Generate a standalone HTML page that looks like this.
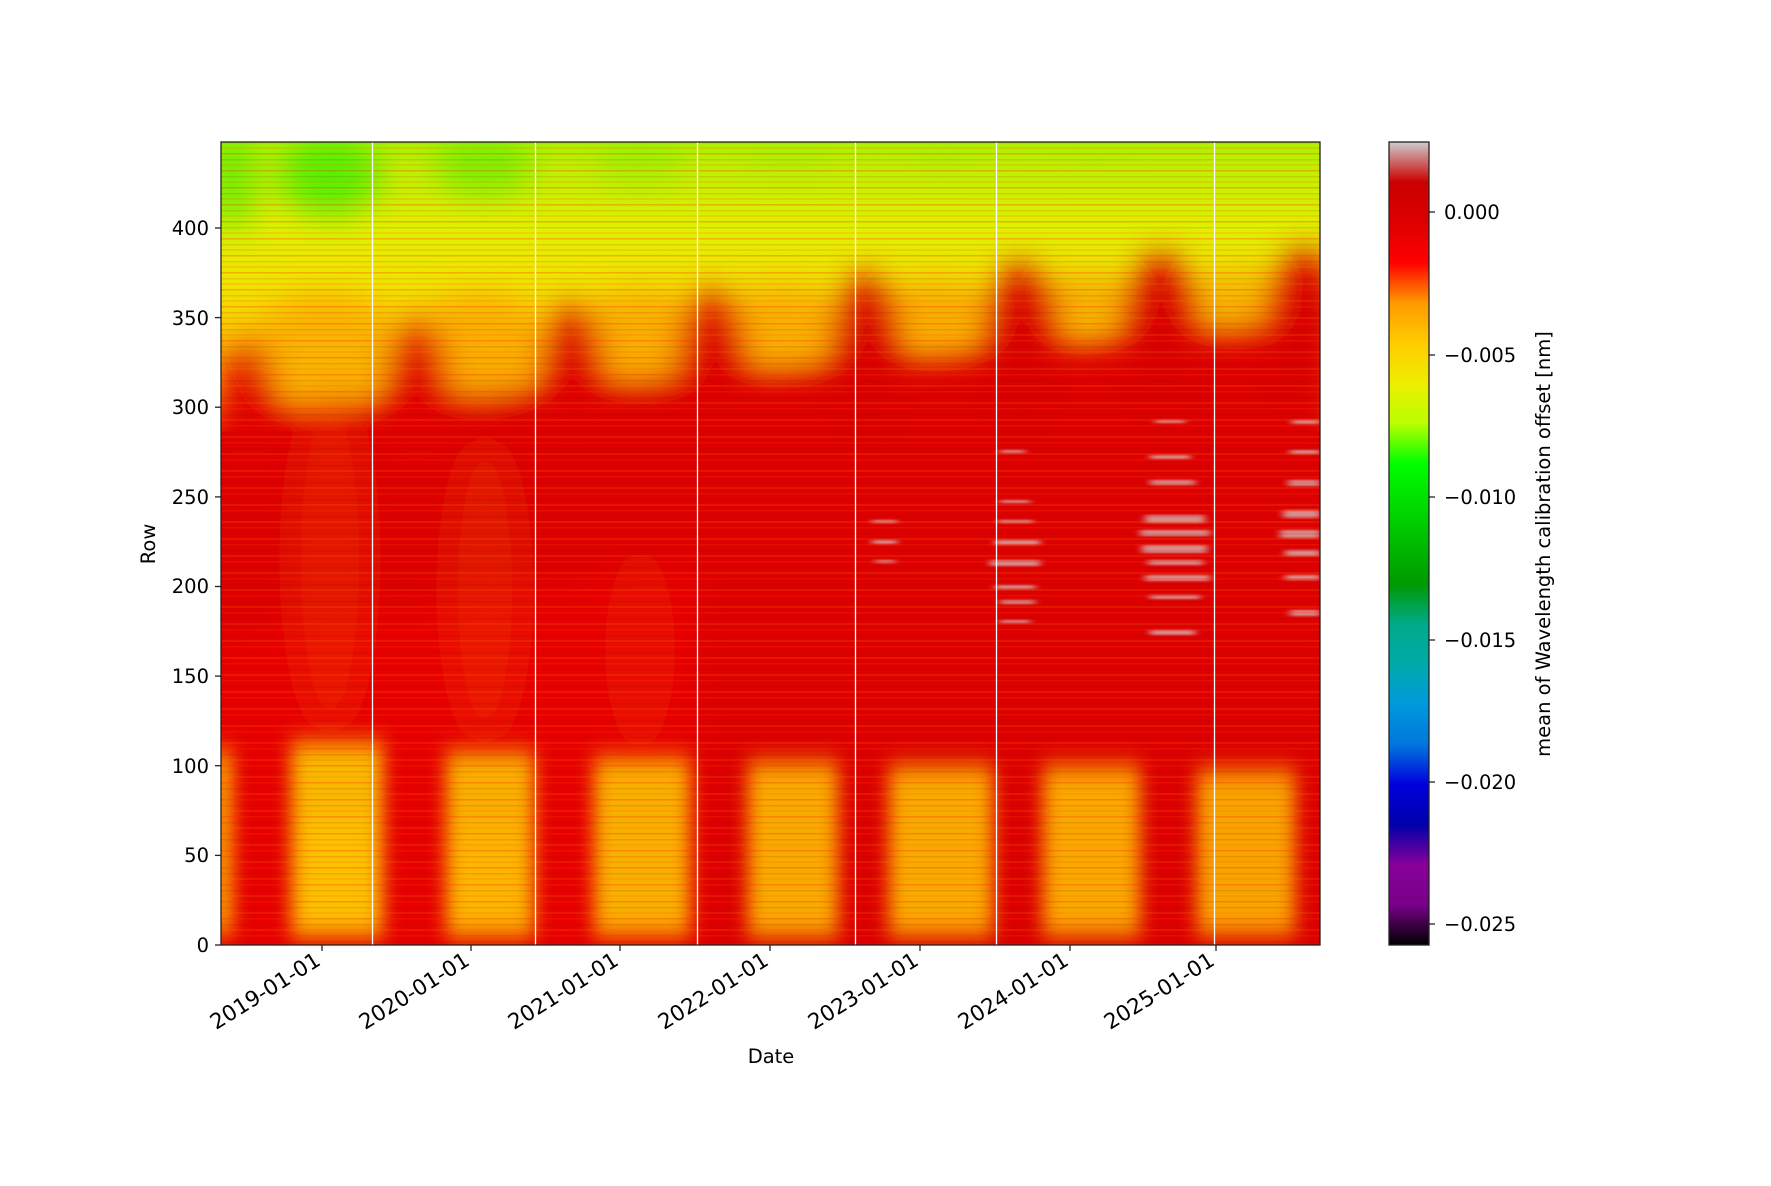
<!DOCTYPE html>
<html><head><meta charset="utf-8"><style>
html,body{margin:0;padding:0;background:#fff;}
svg text{font-family:"DejaVu Sans","Liberation Sans",sans-serif;font-size:19.5px;fill:#000;}
svg text.xt{font-size:21.5px;}
</style></head><body>
<svg width="1771" height="1181" viewBox="0 0 1771 1181" xmlns="http://www.w3.org/2000/svg">
<defs>
<filter id="b1" x="-50%" y="-50%" width="200%" height="200%"><feGaussianBlur stdDeviation="16"/></filter>
<filter id="b2" x="-50%" y="-50%" width="200%" height="200%"><feGaussianBlur stdDeviation="9 12"/></filter>
<filter id="b3" x="-50%" y="-50%" width="200%" height="200%"><feGaussianBlur stdDeviation="4 1"/></filter>
<clipPath id="pc"><rect x="221" y="142" width="1099" height="803"/></clipPath>
<linearGradient id="topg" x1="0" y1="0" x2="0" y2="1">
<stop offset="0" stop-color="#b0f000"/>
<stop offset="0.15" stop-color="#c8f000"/>
<stop offset="0.3" stop-color="#e0f000"/>
<stop offset="0.5" stop-color="#f0e400"/>
<stop offset="0.65" stop-color="#f8cc00"/>
<stop offset="0.82" stop-color="#f8ac00"/>
<stop offset="1" stop-color="#f07000"/>
</linearGradient>
<linearGradient id="cb" x1="0" y1="1" x2="0" y2="0">
<stop offset="0" stop-color="#000000"/>
<stop offset="0.05" stop-color="#780088"/>
<stop offset="0.10" stop-color="#870099"/>
<stop offset="0.15" stop-color="#0000aa"/>
<stop offset="0.20" stop-color="#0000dd"/>
<stop offset="0.25" stop-color="#0077dd"/>
<stop offset="0.30" stop-color="#0099dd"/>
<stop offset="0.35" stop-color="#00aaaa"/>
<stop offset="0.40" stop-color="#00aa88"/>
<stop offset="0.45" stop-color="#009900"/>
<stop offset="0.50" stop-color="#00bb00"/>
<stop offset="0.55" stop-color="#00dd00"/>
<stop offset="0.60" stop-color="#00ff00"/>
<stop offset="0.65" stop-color="#bbff00"/>
<stop offset="0.70" stop-color="#eeee00"/>
<stop offset="0.75" stop-color="#ffcc00"/>
<stop offset="0.80" stop-color="#ff9900"/>
<stop offset="0.85" stop-color="#ff0000"/>
<stop offset="0.90" stop-color="#dd0000"/>
<stop offset="0.95" stop-color="#cc0000"/>
<stop offset="1" stop-color="#cccccc"/>
</linearGradient>
<pattern id="stripes" width="1100" height="17" patternUnits="userSpaceOnUse">
<rect y="0" width="1100" height="1.5" fill="#ff3000" opacity="0.3"/>
<rect y="6" width="1100" height="1.5" fill="#a00000" opacity="0.12"/>
<rect y="11" width="1100" height="2" fill="#ff7000" opacity="0.2"/>
</pattern>
</defs>

<g clip-path="url(#pc)">
<rect x="221" y="142" width="1099" height="803" fill="#d80000"/>
<rect x="221" y="142" width="1099" height="290" fill="url(#topg)"/>
<g filter="url(#b1)">
<polygon points="200,420 1340,320 1340,960 200,960" fill="#dc0000"/>
<polygon points="200,640 700,560 700,960 200,960" fill="#e80000" opacity="0.8"/>
<ellipse cx="326" cy="345" rx="70" ry="50" fill="#f8b400"/>
<ellipse cx="481" cy="340" rx="65" ry="45" fill="#f8ac00" opacity="0.9"/>
<ellipse cx="642" cy="330" rx="60" ry="40" fill="#f8a800" opacity="0.8"/>
<ellipse cx="782" cy="320" rx="60" ry="35" fill="#f8a000" opacity="0.7"/>
<ellipse cx="937" cy="310" rx="55" ry="30" fill="#f89000" opacity="0.6"/>
<ellipse cx="1084" cy="300" rx="55" ry="25" fill="#f88000" opacity="0.5"/>
<ellipse cx="1238" cy="295" rx="55" ry="25" fill="#f88000" opacity="0.45"/>
<ellipse cx="330" cy="560" rx="40" ry="170" fill="#f04000" opacity="0.35"/>
<ellipse cx="485" cy="590" rx="38" ry="150" fill="#f04000" opacity="0.28"/>
<ellipse cx="640" cy="650" rx="35" ry="100" fill="#f03000" opacity="0.22"/>
<ellipse cx="249" cy="420" rx="28" ry="80" fill="#e00000"/>
<ellipse cx="417" cy="400" rx="32" ry="80" fill="#e00000"/>
<ellipse cx="572" cy="385" rx="32" ry="80" fill="#dd0000"/>
<ellipse cx="712" cy="370" rx="34" ry="80" fill="#dc0000"/>
<ellipse cx="866" cy="355" rx="34" ry="80" fill="#d80000"/>
<ellipse cx="1021" cy="345" rx="36" ry="80" fill="#d80000"/>
<ellipse cx="1161" cy="335" rx="36" ry="80" fill="#d80000"/>
<ellipse cx="1305" cy="330" rx="36" ry="80" fill="#d80000"/>
<ellipse cx="232" cy="180" rx="25" ry="50" fill="#50f000" opacity="0.7"/>
<ellipse cx="330" cy="175" rx="50" ry="40" fill="#40f000" opacity="0.8"/>
<ellipse cx="484" cy="165" rx="50" ry="30" fill="#60f000" opacity="0.7"/>
<ellipse cx="640" cy="160" rx="45" ry="22" fill="#80f000" opacity="0.5"/>
<ellipse cx="790" cy="155" rx="45" ry="14" fill="#90f000" opacity="0.4"/>
<ellipse cx="940" cy="152" rx="40" ry="10" fill="#90f000" opacity="0.3"/>
<ellipse cx="1090" cy="152" rx="40" ry="10" fill="#a0f000" opacity="0.3"/>
</g>
<g filter="url(#b2)">
<rect x="212" y="750" width="20" height="185" fill="#f8b000"/>
<rect x="291" y="742" width="92" height="195" fill="#f8b800"/>
<rect x="446" y="752" width="88" height="185" fill="#f8b000"/>
<rect x="594" y="758" width="96" height="178" fill="#f8b000"/>
<rect x="748" y="762" width="90" height="175" fill="#f8aa00"/>
<rect x="889" y="766" width="104" height="170" fill="#f8aa00"/>
<rect x="1043" y="766" width="97" height="170" fill="#f8a800"/>
<rect x="1197" y="770" width="98" height="165" fill="#f8a400"/>
<rect x="305" y="820" width="65" height="110" fill="#ffc400" opacity="0.7"/>
<rect x="455" y="835" width="65" height="90" fill="#ffbc00" opacity="0.5"/>
</g>
<g filter="url(#b3)" opacity="0.7">
<g fill="#d8c8c8">
<rect x="995" y="540" width="45" height="5"/><rect x="990" y="560" width="50" height="6"/><rect x="995" y="585" width="40" height="4"/><rect x="998" y="520" width="35" height="3"/><rect x="1000" y="600" width="35" height="4"/><rect x="1000" y="500" width="30" height="3"/><rect x="1000" y="450" width="25" height="3"/><rect x="1000" y="620" width="30" height="3"/>
<rect x="1145" y="515" width="60" height="8"/><rect x="1140" y="530" width="70" height="6"/><rect x="1142" y="545" width="65" height="8"/><rect x="1148" y="560" width="55" height="5"/><rect x="1145" y="575" width="65" height="6"/><rect x="1150" y="595" width="50" height="4"/><rect x="1150" y="480" width="45" height="5"/><rect x="1150" y="455" width="40" height="4"/><rect x="1150" y="630" width="45" height="5"/><rect x="1155" y="420" width="30" height="3"/>
<rect x="1283" y="510" width="37" height="8"/><rect x="1280" y="530" width="40" height="8"/><rect x="1285" y="550" width="35" height="6"/><rect x="1285" y="575" width="35" height="5"/><rect x="1288" y="480" width="32" height="6"/><rect x="1290" y="450" width="30" height="4"/><rect x="1290" y="610" width="30" height="6"/><rect x="1292" y="420" width="28" height="4"/>
<rect x="872" y="520" width="25" height="3"/><rect x="872" y="540" width="25" height="4"/><rect x="875" y="560" width="20" height="3"/>
</g>
</g>
<rect x="221" y="142" width="1099" height="803" fill="url(#stripes)"/>
<g stroke="#fff" stroke-width="1.3">
<line x1="372.5" y1="142" x2="372.5" y2="945"/>
<line x1="535.5" y1="142" x2="535.5" y2="945"/>
<line x1="697.5" y1="142" x2="697.5" y2="945"/>
<line x1="855.5" y1="142" x2="855.5" y2="945"/>
<line x1="996.5" y1="142" x2="996.5" y2="945"/>
<line x1="1214.5" y1="142" x2="1214.5" y2="945"/>
</g>
</g>
<rect x="221" y="142" width="1099" height="803" fill="none" stroke="#222" stroke-width="1.3"/>

<g stroke="#222" stroke-width="1.3">
<line x1="215" y1="945" x2="221" y2="945"/><line x1="215" y1="855.4" x2="221" y2="855.4"/><line x1="215" y1="765.7" x2="221" y2="765.7"/><line x1="215" y1="676.1" x2="221" y2="676.1"/><line x1="215" y1="586.5" x2="221" y2="586.5"/><line x1="215" y1="496.9" x2="221" y2="496.9"/><line x1="215" y1="407.2" x2="221" y2="407.2"/><line x1="215" y1="317.6" x2="221" y2="317.6"/><line x1="215" y1="228" x2="221" y2="228"/>
<line x1="322" y1="945" x2="322" y2="951"/><line x1="471" y1="945" x2="471" y2="951"/><line x1="620" y1="945" x2="620" y2="951"/><line x1="770" y1="945" x2="770" y2="951"/><line x1="920" y1="945" x2="920" y2="951"/><line x1="1070" y1="945" x2="1070" y2="951"/><line x1="1216" y1="945" x2="1216" y2="951"/>
</g>
<g text-anchor="end">
<text x="209" y="952">0</text><text x="209" y="862">50</text><text x="209" y="773">100</text><text x="209" y="683">150</text><text x="209" y="593">200</text><text x="209" y="504">250</text><text x="209" y="414">300</text><text x="209" y="325">350</text><text x="209" y="235">400</text>
</g>
<g text-anchor="end">
<text class="xt" transform="translate(322,964) rotate(-32)">2019-01-01</text>
<text class="xt" transform="translate(471,964) rotate(-32)">2020-01-01</text>
<text class="xt" transform="translate(620,964) rotate(-32)">2021-01-01</text>
<text class="xt" transform="translate(770,964) rotate(-32)">2022-01-01</text>
<text class="xt" transform="translate(920,964) rotate(-32)">2023-01-01</text>
<text class="xt" transform="translate(1070,964) rotate(-32)">2024-01-01</text>
<text class="xt" transform="translate(1216,964) rotate(-32)">2025-01-01</text>
</g>
<text x="771" y="1063" text-anchor="middle">Date</text>
<text transform="translate(155,544) rotate(-90)" text-anchor="middle">Row</text>

<rect x="1389" y="142" width="40" height="803" fill="url(#cb)" stroke="#222" stroke-width="1.3"/>
<g stroke="#222" stroke-width="1.3">
<line x1="1429" y1="212" x2="1435" y2="212"/><line x1="1429" y1="355" x2="1435" y2="355"/><line x1="1429" y1="497" x2="1435" y2="497"/><line x1="1429" y1="640" x2="1435" y2="640"/><line x1="1429" y1="782" x2="1435" y2="782"/><line x1="1429" y1="924" x2="1435" y2="924"/>
</g>
<g>
<text x="1444" y="219">0.000</text>
<text x="1444" y="362">−0.005</text>
<text x="1444" y="504">−0.010</text>
<text x="1444" y="647">−0.015</text>
<text x="1444" y="789">−0.020</text>
<text x="1444" y="931">−0.025</text>
</g>
<text transform="translate(1550,544) rotate(-90)" text-anchor="middle">mean of Wavelength calibration offset [nm]</text>
</svg>
</body></html>
